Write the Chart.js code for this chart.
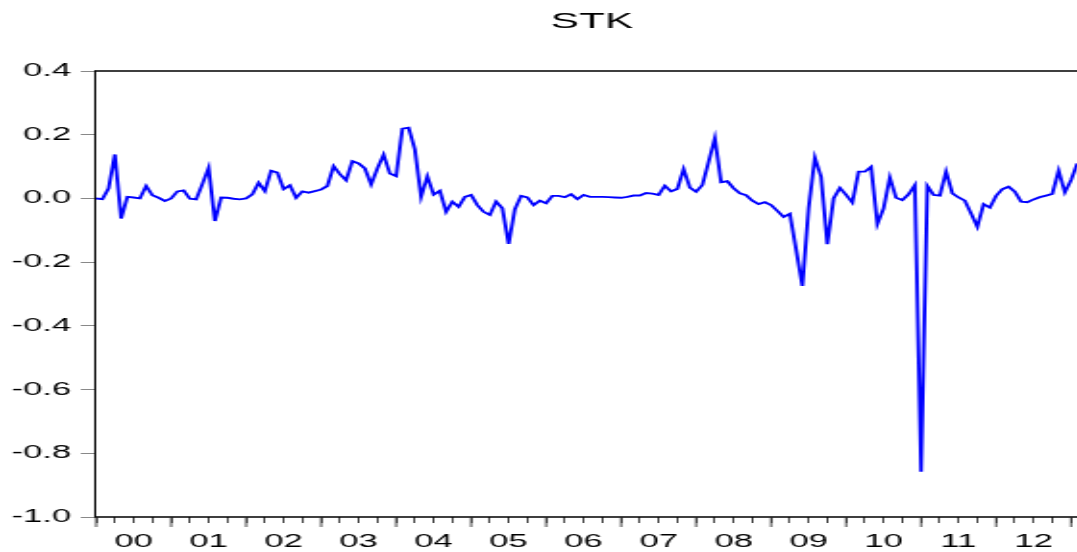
<!DOCTYPE html>
<html>
<head>
<meta charset="utf-8">
<title>STK</title>
<script src="https://cdn.jsdelivr.net/npm/chart.js@4.4.1/dist/chart.umd.min.js"></script>
<style>
  html, body { margin: 0; padding: 0; background: #fff; overflow: hidden; }
  #wrap { width: 1077px; height: 552px; overflow: hidden; }
  /* the chart is drawn narrow and stretched sideways, like the original export */
  #stk-chart { width: 1184px !important; height: 552px !important; }
</style>
</head>
<body>
<div id="wrap">
  <canvas id="stk-chart" width="616" height="552" style="width:1184px;height:552px"></canvas>
</div>
<script>
'use strict';

// ******DATA****** monthly values, one array per year (2000M01 ...)
let stk2000 = [0.000, -0.002, 0.032, 0.138, -0.063, 0.005, 0.003, 0.000, 0.039, 0.010, 0.002, -0.008];
let stk2001 = [0.000, 0.022, 0.025, -0.001, -0.003, 0.045, 0.096, -0.071, 0.003, 0.002, -0.001, -0.003];
let stk2002 = [0.000, 0.013, 0.049, 0.023, 0.087, 0.081, 0.029, 0.041, 0.002, 0.022, 0.018, 0.023];
let stk2003 = [0.028, 0.039, 0.101, 0.076, 0.057, 0.117, 0.110, 0.094, 0.044, 0.094, 0.137, 0.078];
let stk2004 = [0.070, 0.219, 0.222, 0.154, 0.005, 0.069, 0.012, 0.024, -0.042, -0.010, -0.026, 0.005];
let stk2005 = [0.011, -0.021, -0.042, -0.052, -0.010, -0.031, -0.143, -0.034, 0.008, 0.003, -0.021, -0.007];
let stk2006 = [-0.015, 0.008, 0.008, 0.004, 0.013, -0.002, 0.011, 0.005, 0.005, 0.005, 0.004, 0.003];
let stk2007 = [0.002, 0.005, 0.009, 0.009, 0.017, 0.015, 0.011, 0.040, 0.022, 0.030, 0.092, 0.034];
let stk2008 = [0.021, 0.042, 0.115, 0.189, 0.051, 0.054, 0.032, 0.016, 0.010, -0.007, -0.018, -0.012];
let stk2009 = [-0.021, -0.039, -0.058, -0.048, -0.160, -0.275, -0.031, 0.128, 0.068, -0.144, 0.000, 0.033];
let stk2010 = [0.011, -0.013, 0.084, 0.084, 0.099, -0.080, -0.031, 0.066, 0.002, -0.005, 0.013, 0.042];
let stk2011 = [-0.858, 0.039, 0.011, 0.009, 0.084, 0.016, 0.003, -0.007, -0.047, -0.089, -0.018, -0.029];
let stk2012 = [0.008, 0.029, 0.037, 0.021, -0.010, -0.012, -0.003, 0.004, 0.009, 0.014, 0.087, 0.019];
let stk2013 = [0.058, 0.110];

let yearLabels = ['00', '01', '02', '03', '04', '05', '06', '07', '08', '09', '10', '11', '12'];

// ******GLOBALS******
let stkValues = [].concat(stk2000, stk2001, stk2002, stk2003, stk2004, stk2005, stk2006,
  stk2007, stk2008, stk2009, stk2010, stk2011, stk2012, stk2013);

let xMax = 159; // months covered by the plot box
let yMin = -1.0;
let yMax = 0.4;

let fontFamily = '"Liberation Sans", Arial, Helvetica, sans-serif';

let stkPoints = [];
for (let i = 0; i < stkValues.length; i++) {
  stkPoints.push({ x: i, y: stkValues[i] });
}

// ****** PLUGIN: box round the plot and long ticks at each year ******
let frameBox = {
  id: 'frameBox',
  afterDraw(chart) {
    let ctx = chart.ctx;
    let a = chart.chartArea;
    let xScale = chart.scales.x;

    ctx.save();
    ctx.strokeStyle = '#000';
    // horizontal sides
    ctx.lineWidth = 1.6;
    ctx.beginPath();
    ctx.moveTo(a.left, a.top);
    ctx.lineTo(a.right, a.top);
    ctx.moveTo(a.left, a.bottom);
    ctx.lineTo(a.right, a.bottom);
    ctx.stroke();
    // vertical sides, snapped to whole pixels so they stay black
    let leftX = Math.round(a.left) - 0.5;
    let rightX = Math.round(a.right) + 0.5;
    ctx.lineWidth = 1;
    ctx.beginPath();
    ctx.moveTo(leftX, a.top - 0.8);
    ctx.lineTo(leftX, a.bottom + 0.8);
    ctx.moveTo(rightX, a.top - 0.8);
    ctx.lineTo(rightX, a.bottom + 0.8);
    ctx.stroke();

    // year ticks are longer than the quarter ticks
    ctx.strokeStyle = '#333';
    ctx.lineWidth = 0.9;
    for (let m = 0; m <= xMax; m += 12) {
      let px = xScale.getPixelForValue(m);
      ctx.beginPath();
      ctx.moveTo(px, a.bottom);
      ctx.lineTo(px, a.bottom + 10);
      ctx.stroke();
    }
    ctx.restore();
  }
};

// ******CHART******
let canvasElem = document.getElementById('stk-chart').getContext('2d');

let myChartObj = {
  type: 'line',
  data: {
    datasets: [{
      label: 'STK',
      data: stkPoints,
      borderColor: '#0000ff',
      borderWidth: 1.9,
      pointRadius: 0,
      tension: 0,
      fill: false
    }]
  },
  options: {
    responsive: false,
    animation: false,
    devicePixelRatio: 1,
    plugins: {
      legend: { display: false },
      tooltip: { enabled: false },
      title: {
        display: true,
        text: 'STK',
        color: '#000',
        font: { family: fontFamily, size: 22, weight: 'normal' },
        padding: { top: 9, bottom: 35.6 }
      }
    },
    scales: {
      x: {
        type: 'linear',
        min: 0,
        max: xMax,
        afterBuildTicks(scale) {
          let ticks = [];
          for (let m = 0; m <= xMax; m += 3) {
            ticks.push({ value: m });
          }
          scale.ticks = ticks;
        },
        afterFit(scale) {
          scale.height = 35;
        },
        border: { display: false },
        grid: {
          drawOnChartArea: false,
          drawTicks: true,
          tickLength: 6,
          color: '#333',
          lineWidth: 0.9
        },
        ticks: {
          autoSkip: false,
          maxRotation: 0,
          padding: 8,
          color: '#000',
          font: { family: fontFamily, size: 18 },
          callback: function (value) {
            if (value % 12 === 6) {
              return yearLabels[(value - 6) / 12] || '';
            }
            return '';
          }
        }
      },
      y: {
        min: yMin,
        max: yMax,
        afterFit(scale) {
          scale.width = 50;
        },
        border: { display: false },
        grid: {
          drawOnChartArea: false,
          drawTicks: true,
          tickLength: 8,
          color: '#888',
          lineWidth: 1
        },
        ticks: {
          stepSize: 0.2,
          padding: 5,
          color: '#000',
          font: { family: fontFamily, size: 18 },
          callback: function (value) {
            if (Math.abs(value) < 1e-9) {
              return '0.0';
            }
            return Number(value).toFixed(1);
          }
        }
      },
      // empty right margin so the title stays centred over the whole box
      yRight: {
        position: 'right',
        min: yMin,
        max: yMax,
        afterFit(scale) {
          scale.width = 49;
        },
        border: { display: false },
        grid: { display: false },
        ticks: { display: false }
      }
    }
  },
  plugins: [frameBox]
};

new Chart(canvasElem, myChartObj);
</script>
</body>
</html>
